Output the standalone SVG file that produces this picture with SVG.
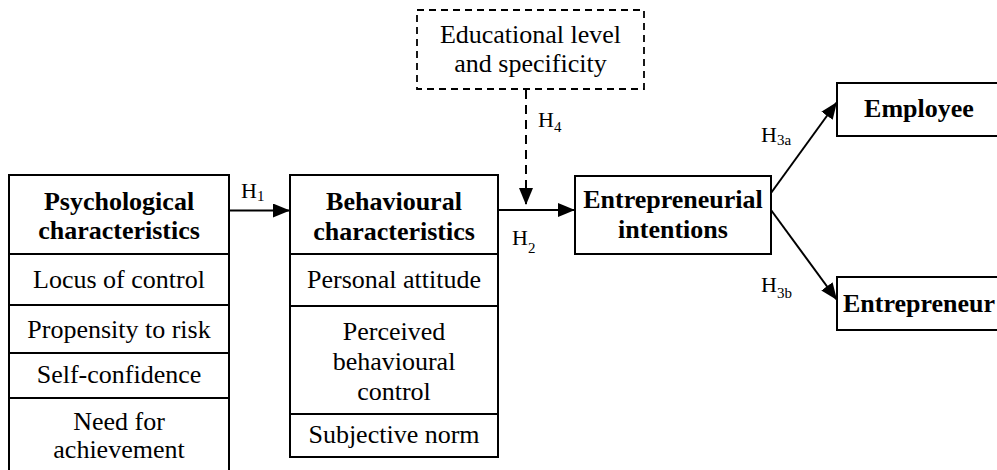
<svg xmlns="http://www.w3.org/2000/svg" width="997" height="470" viewBox="0 0 997 470">
<style>
.box{fill:#fff;stroke:#000;stroke-width:2}
.dbox{fill:#fff;stroke:#000;stroke-width:1.8;stroke-dasharray:7,5}
.t{font-family:"Liberation Serif","Times New Roman",serif;font-size:26px;fill:#000;text-anchor:middle}
.b{font-weight:bold}
.h{font-family:"Liberation Serif","Times New Roman",serif;font-size:22px;fill:#000}
.s{font-size:15px}
.ln{stroke:#000;stroke-width:2;fill:none}
.dl{stroke:#000;stroke-width:2;fill:none;stroke-dasharray:9,6}
</style>
<defs>
<marker id="ah" markerUnits="userSpaceOnUse" markerWidth="18" markerHeight="14" refX="17" refY="7" orient="auto">
<path d="M0,0 L17,7 L0,14 z" fill="#000"/>
</marker>
</defs>
<g id="psychological">
<rect class="box" x="9" y="175" width="220" height="300"/>
<line class="ln" x1="9" y1="254" x2="229" y2="254"/>
<line class="ln" x1="9" y1="305" x2="229" y2="305"/>
<line class="ln" x1="9" y1="353" x2="229" y2="353"/>
<line class="ln" x1="9" y1="398" x2="229" y2="398"/>
<text class="t b" x="119" y="210">Psychological</text>
<text class="t b" x="119" y="239">characteristics</text>
<text class="t" x="119" y="288">Locus of control</text>
<text class="t" x="119" y="338">Propensity to risk</text>
<text class="t" x="119" y="383">Self-confidence</text>
<text class="t" x="119" y="430">Need for</text>
<text class="t" x="119" y="458">achievement</text>
</g>
<g id="behavioural">
<rect class="box" x="290" y="175" width="208" height="282"/>
<line class="ln" x1="290" y1="254" x2="498" y2="254"/>
<line class="ln" x1="290" y1="306" x2="498" y2="306"/>
<line class="ln" x1="290" y1="414" x2="498" y2="414"/>
<text class="t b" x="394" y="210">Behavioural</text>
<text class="t b" x="394" y="240">characteristics</text>
<text class="t" x="394" y="288">Personal attitude</text>
<text class="t" x="394" y="340">Perceived</text>
<text class="t" x="394" y="370">behavioural</text>
<text class="t" x="394" y="400">control</text>
<text class="t" x="394" y="443">Subjective norm</text>
</g>
<g id="intentions">
<rect class="box" x="575" y="176" width="196" height="78"/>
<text class="t b" x="673" y="208">Entrepreneurial</text>
<text class="t b" x="673" y="238">intentions</text>
</g>
<g id="education">
<rect class="dbox" x="417" y="10" width="227" height="79"/>
<text class="t" x="530.5" y="43">Educational level</text>
<text class="t" x="530.5" y="72">and specificity</text>
</g>
<g id="employee">
<rect class="box" x="837" y="83" width="170" height="53"/>
<text class="t b" x="919" y="117">Employee</text>
</g>
<g id="entrepreneur">
<rect class="box" x="837" y="277" width="170" height="53"/>
<text class="t b" x="919" y="312">Entrepreneur</text>
</g>
<g id="connectors">
<line class="ln" x1="229" y1="210.5" x2="290" y2="210.5" marker-end="url(#ah)"/>
<line class="ln" x1="498" y1="210" x2="575" y2="210" marker-end="url(#ah)"/>
<line class="dl" x1="526" y1="90" x2="526" y2="205" marker-end="url(#ah)"/>
<line class="ln" x1="771" y1="193" x2="837" y2="102" marker-end="url(#ah)"/>
<line class="ln" x1="771" y1="210" x2="837" y2="300" marker-end="url(#ah)"/>
<text class="h" x="241" y="197.5">H<tspan class="s" dy="3">1</tspan></text>
<text class="h" x="512" y="245">H<tspan class="s" dy="8">2</tspan></text>
<text class="h" x="538" y="127">H<tspan class="s" dy="5">4</tspan></text>
<text class="h" x="761" y="142">H<tspan class="s" dy="3">3a</tspan></text>
<text class="h" x="761" y="292">H<tspan class="s" dy="6">3b</tspan></text>
</g>
</svg>
